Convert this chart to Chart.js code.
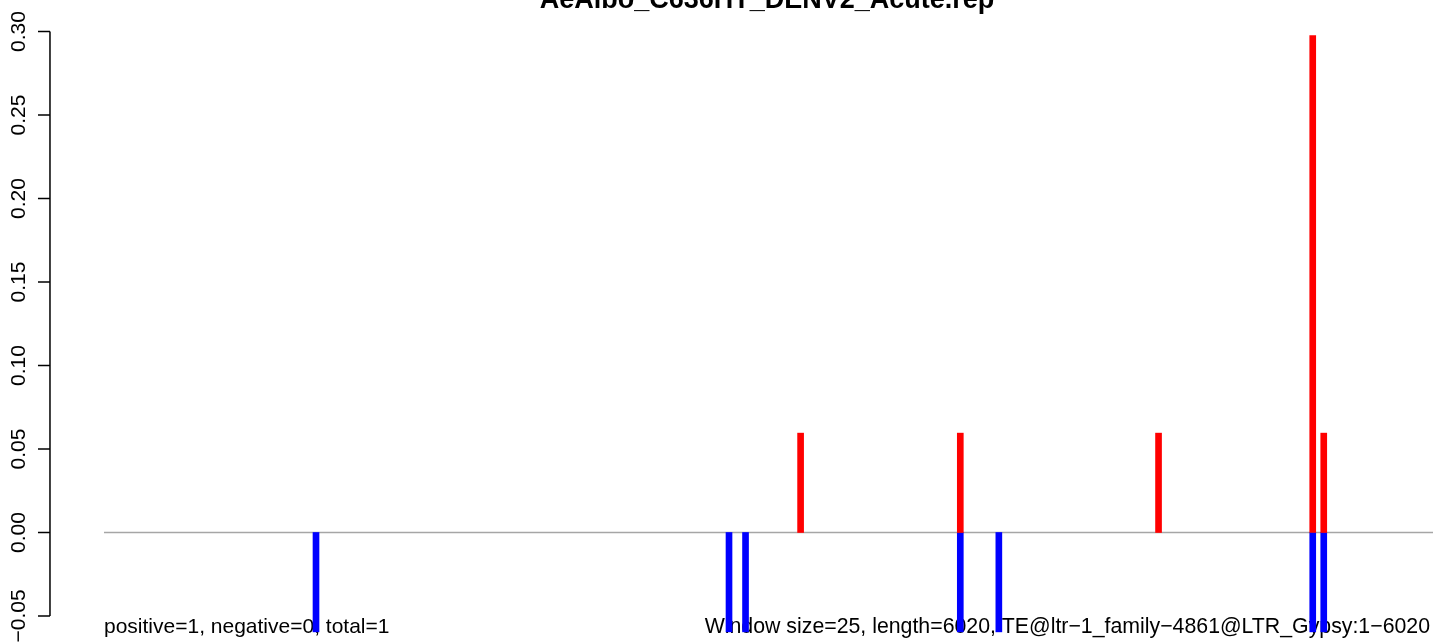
<!DOCTYPE html>
<html lang="en">
<head>
    <meta charset="UTF-8">
    <title>AeAlbo_C636HT_DENV2_Acute.rep</title>
    <script src="https://cdn.jsdelivr.net/npm/chart.js"></script>
    <style>
        body {
            margin: 0;
            padding: 0;
            background-color: #fff;
        }
        .chart-box {
            width: 1433px;
            height: 644px;
            overflow: hidden;
        }
    </style>
</head>
<body>
    <div class="chart-box">
        <canvas id="repChart" width="1433" height="644"></canvas>
    </div>

    <script>
        // window positions (bp, window midpoints) and normalised read counts
        var sensePos = [3162.5, 3887.5, 4787.5, 5487.5, 5537.5];
        var senseVals = [0.0595, 0.0595, 0.0595, 0.2975, 0.0595];
        var antisensePos = [962.5, 2837.5, 2912.5, 3887.5, 4062.5, 5487.5, 5537.5];
        var antisenseVals = [-0.0595, -0.0595, -0.0595, -0.0595, -0.0595, -0.0595, -0.0595];

        var yTicks = [-0.05, 0, 0.05, 0.10, 0.15, 0.20, 0.25, 0.30];
        var yTickLabels = ['\u22120.05', '0.00', '0.05', '0.10', '0.15', '0.20', '0.25', '0.30'];

        var seqLength = 6020;
        var axisAt = -245.2;   // x value where R puts the y axis (left edge of plot region)
        var titleText = 'AeAlbo_C636HT_DENV2_Acute.rep';
        var leftNote = 'positive=1, negative=0, total=1';
        var rightNote = 'Window size=25, length=6020, TE@ltr\u22121_family\u22124861@LTR_Gypsy:1\u22126020';

        var fontFamily = '"Liberation Sans", Arial, sans-serif';

        function toPoints(xs, ys) {
            return xs.map(function (x, i) { return { x: x, y: ys[i] }; });
        }

        // R-style axis, zero line, title and notes
        var rDecor = {
            id: 'rDecor',
            beforeDatasetsDraw: function (chart) {
                var ctx = chart.ctx;
                var xs = chart.scales.x;
                var ys = chart.scales.y;
                ctx.save();

                // zero line
                ctx.strokeStyle = '#a6a6a6';
                ctx.lineWidth = 1.5;
                ctx.beginPath();
                ctx.moveTo(xs.getPixelForValue(0), ys.getPixelForValue(0));
                ctx.lineTo(chart.width, ys.getPixelForValue(0));
                ctx.stroke();

                // notes under the bars
                ctx.fillStyle = '#000';
                ctx.font = '21px ' + fontFamily;
                ctx.textBaseline = 'alphabetic';
                ctx.textAlign = 'left';
                ctx.fillText(leftNote, xs.getPixelForValue(0), 633);
                ctx.textAlign = 'right';
                ctx.font = '21.3px ' + fontFamily;
                ctx.fillText(rightNote, xs.getPixelForValue(seqLength), 633);

                // y axis
                var axisX = xs.getPixelForValue(axisAt);
                ctx.strokeStyle = '#000';
                ctx.lineWidth = 1.5;
                ctx.beginPath();
                ctx.moveTo(axisX, ys.getPixelForValue(yTicks[0]));
                ctx.lineTo(axisX, ys.getPixelForValue(yTicks[yTicks.length - 1]));
                yTicks.forEach(function (t) {
                    var py = ys.getPixelForValue(t);
                    ctx.moveTo(axisX, py);
                    ctx.lineTo(axisX - 12, py);
                });
                ctx.stroke();

                ctx.font = '21px ' + fontFamily;
                ctx.textAlign = 'center';
                yTicks.forEach(function (t, i) {
                    ctx.save();
                    ctx.translate(axisX - 25, ys.getPixelForValue(t));
                    ctx.rotate(-Math.PI / 2);
                    ctx.fillText(yTickLabels[i], 0, 0);
                    ctx.restore();
                });

                // title, centred on the full plot region (cut at the top like the original)
                ctx.font = 'bold 27px ' + fontFamily;
                ctx.textAlign = 'center';
                ctx.fillText(titleText, (axisX + xs.getPixelForValue(seqLength - axisAt)) / 2, 8);
                ctx.restore();
            }
        };

        var ctxRep = document.getElementById('repChart').getContext('2d');
        new Chart(ctxRep, {
            type: 'bar',
            data: {
                datasets: [{
                    label: 'positive',
                    data: toPoints(sensePos, senseVals),
                    backgroundColor: '#ff0000',
                    borderWidth: 0,
                    barThickness: 6,
                    grouped: false
                }, {
                    label: 'negative',
                    data: toPoints(antisensePos, antisenseVals),
                    backgroundColor: '#0000ff',
                    borderWidth: 0,
                    barThickness: 6,
                    grouped: false
                }]
            },
            options: {
                responsive: false,
                animation: false,
                layout: { padding: 0 },
                plugins: {
                    legend: { display: false },
                    tooltip: { enabled: false },
                    title: { display: false }
                },
                scales: {
                    x: {
                        type: 'linear',
                        display: false,
                        offset: false,
                        min: -472.1,
                        max: 6033.5
                    },
                    y: {
                        display: false,
                        min: -0.06677,
                        max: 0.31886
                    }
                }
            },
            plugins: [rDecor]
        });
    </script>
</body>
</html>
